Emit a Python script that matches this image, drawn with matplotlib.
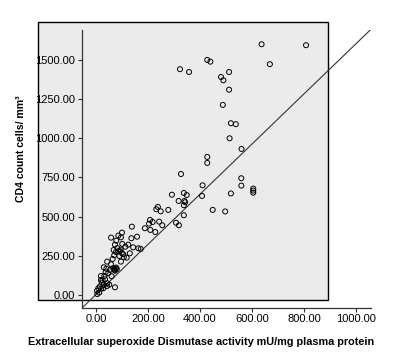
import numpy as np
import matplotlib
matplotlib.use("Agg")
import matplotlib.pyplot as plt
from matplotlib.patches import Rectangle

plt.rcParams['font.family'] = ['Liberation Sans', 'DejaVu Sans']

# Extracellular SOD activity (mU/mg plasma protein) and CD4 count (cells/mm3)
sod_upper = [637, 808, 669, 428, 440, 512, 481, 490, 512, 488, 519, 538, 514, 560,
             428, 428, 559, 323, 358, 327, 559, 410, 408, 519, 605, 605, 605, 449, 497]
cd4_upper = [1600, 1594, 1473, 1500, 1489, 1423, 1391, 1370, 1310, 1213, 1096, 1090, 1000, 932,
             881, 843, 745, 1441, 1423, 772, 698, 700, 632, 648, 679, 666, 653, 543, 533]

sod_mid = [292, 338, 349, 318, 340, 343, 338, 238, 232, 249, 278, 338, 208, 218, 204,
           243, 255, 308, 319, 188, 209, 228]
cd4_mid = [640, 651, 638, 600, 600, 592, 573, 562, 547, 534, 543, 509, 479, 466, 455,
           468, 445, 461, 445, 426, 415, 402]

sod_low = [138, 58, 86, 100, 96, 136, 158, 78, 73, 101, 124, 113, 143, 163, 172, 68, 77,
           86, 99, 130, 70, 90, 107, 118, 96, 43, 58, 30, 40, 54, 70, 73, 37, 47, 19, 32,
           19, 22, 30, 43, 51, 73, 9, 4, 12, 5, 28, 42,
           75, 78, 66, 72, 80, 92, 95, 105, 64, 82, 60, 25, 35, 15, 20]
cd4_low = [436, 366, 379, 398, 368, 362, 372, 347, 321, 326, 321, 308, 304, 298, 294, 287, 274,
           279, 268, 266, 253, 249, 241, 238, 213, 213, 196, 177, 168, 160, 164, 155, 145, 139, 121, 121,
           96, 79, 64, 75, 66, 49, 43, 27, 15, 6, 43, 57,
           170, 175, 172, 160, 165, 280, 290, 260, 230, 300, 120, 95, 100, 55, 40]

sod = sod_upper + sod_mid + sod_low
cd4 = cd4_upper + cd4_mid + cd4_low

line_slope = 1.6
line_icpt = 3

x_ticks = [0, 200, 400, 600, 800, 1000]
y_ticks = [0, 250, 500, 750, 1000, 1250, 1500]

fig = plt.figure(figsize=(3.96, 3.55), dpi=100)
ax = fig.add_axes([0.2063, 0.1324, 0.7306, 0.7831])
ax.set_xlim(-55, 1058)
ax.set_ylim(-83, 1691)
ax.patch.set_visible(False)

# grey plot frame (SPSS style), extends past the offset axes
frame = Rectangle((-223, -32), 1115, 1774.5, facecolor='#ebebeb', edgecolor='black',
                  linewidth=1.0, clip_on=False, zorder=0)
ax.add_patch(frame)

ax.scatter(sod, cd4, s=13, facecolors='none', edgecolors='black', linewidths=0.7, zorder=3)

xl = np.array(ax.get_xlim())
ax.plot(xl, line_slope * xl + line_icpt, color='#333333', linewidth=0.8, zorder=2)

for s in ['top', 'right']:
    ax.spines[s].set_visible(False)
for s in ['left', 'bottom']:
    ax.spines[s].set_color('#333333')
    ax.spines[s].set_linewidth(0.9)

ax.set_xticks(x_ticks)
ax.set_yticks(y_ticks)
ax.set_xticklabels(['%.2f' % v for v in x_ticks])
ax.set_yticklabels(['%.2f' % v for v in y_ticks])
ax.tick_params(direction='out', length=3, width=0.8, color='#333333', labelsize=8, pad=1.5)

fig.text(21.5 / 396, 1 - 149 / 355, 'CD4 count cells/ mm\u00b3', rotation=90, ha='center',
         va='center', fontsize=7.6, fontweight='bold')
fig.text(201.5 / 396, 1 - 342 / 355, 'Extracellular superoxide Dismutase activity mU/mg plasma protein',
         ha='center', va='center', fontsize=7.8, fontweight='bold')

fig.savefig('out.png', dpi=100)
